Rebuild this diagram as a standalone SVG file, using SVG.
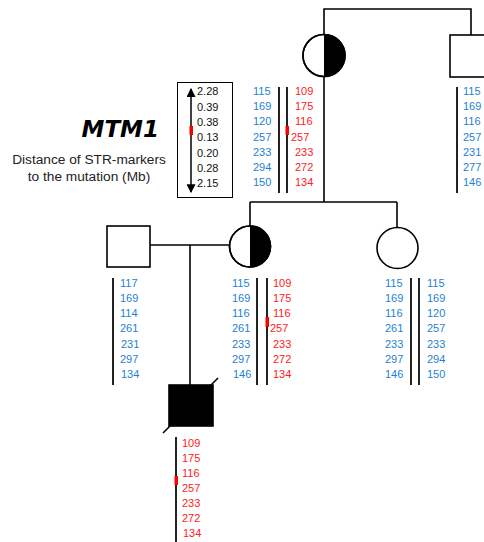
<svg xmlns="http://www.w3.org/2000/svg" width="484" height="542" viewBox="0 0 484 542">
  <style>
    .sym { fill: #fff; stroke: #000; stroke-width: 1.6; }
    .aff { fill: #000; stroke: #000; stroke-width: 1.6; }
    .ln { fill: none; stroke: #000; stroke-width: 1.6; }
    .bar { stroke: #222; stroke-width: 2; }
    .mk { fill: #ff0000; }
    .n { font-family: "Liberation Sans", Arial, sans-serif; font-size: 11px; }
    .b { fill: #1f7fd4; }
    .r { fill: #ff2020; }
    .k { fill: #111; }
  </style>
  <defs>
    <marker id="ah" viewBox="0 0 8 8" refX="7" refY="4" markerWidth="6" markerHeight="6" orient="auto-start-reverse">
      <path d="M0,0 L8,4 L0,8 z" fill="#000"/>
    </marker>
  </defs>

  <!-- pedigree lines -->
  <g id="connectors">
    <path class="ln" d="M324,34 V9 H471 V35"/>
    <path class="ln" d="M324,77 V202"/>
    <path class="ln" d="M250,202 H397"/>
    <path class="ln" d="M250,202 V226"/>
    <path class="ln" d="M397,202 V227"/>
    <path class="ln" d="M150,245 H229"/>
    <path class="ln" d="M190,245 V385"/>
  </g>

  <!-- legend -->
  <g id="legend">
    <text x="159" y="137" text-anchor="end" font-family="DejaVu Sans, sans-serif" font-size="23" font-weight="bold" font-style="italic">MTM1</text>
    <text x="89" y="164" text-anchor="middle" font-family="Liberation Sans, Arial, sans-serif" font-size="13.7" fill="#222">Distance of STR-markers</text>
    <text x="89" y="181" text-anchor="middle" font-family="Liberation Sans, Arial, sans-serif" font-size="13.7" fill="#222">to the mutation (Mb)</text>
    <rect x="177.5" y="82.5" width="55" height="115" fill="#fff" stroke="#000" stroke-width="1"/>
    <line x1="191" y1="89" x2="191" y2="192" stroke="#000" stroke-width="1.5" marker-start="url(#ah)" marker-end="url(#ah)"/>
    <rect class="mk" x="189.5" y="126" width="3.5" height="9"/>
    <g class="n k">
      <text x="197" y="95">2.28</text>
      <text x="197" y="111">0.39</text>
      <text x="197" y="126">0.38</text>
      <text x="197" y="141">0.13</text>
      <text x="197" y="157">0.20</text>
      <text x="197" y="172">0.28</text>
      <text x="197" y="187">2.15</text>
    </g>
  </g>

  <!-- grandmother: carrier -->
  <g id="grandmother">
    <circle class="sym" cx="324" cy="55.5" r="21"/>
    <path d="M324,34.5 A21,21 0 0 1 324,76.5 Z" fill="#000"/>
    <circle cx="324" cy="55.5" r="21" fill="none" stroke="#000" stroke-width="1.6"/>
    <line class="bar" x1="279" y1="87" x2="279" y2="193"/>
    <line class="bar" x1="287" y1="87" x2="287" y2="193"/>
    <rect class="mk" x="285.5" y="126" width="3.5" height="9"/>
    <g class="n b">
      <text x="253" y="95">115</text>
      <text x="253" y="110">169</text>
      <text x="253" y="125">120</text>
      <text x="253" y="141">257</text>
      <text x="253" y="156">233</text>
      <text x="253" y="171">294</text>
      <text x="253" y="186">150</text>
    </g>
    <g class="n r">
      <text x="295" y="95">109</text>
      <text x="295" y="110">175</text>
      <text x="295" y="125">116</text>
      <text x="291" y="141">257</text>
      <text x="295" y="156">233</text>
      <text x="295" y="171">272</text>
      <text x="295" y="186">134</text>
    </g>
  </g>

  <!-- grandfather -->
  <g id="grandfather">
    <rect class="sym" x="450" y="35" width="42" height="42"/>
    <line class="bar" x1="457" y1="87" x2="457" y2="193"/>
    <g class="n b">
      <text x="463" y="95">115</text>
      <text x="463" y="110">169</text>
      <text x="463" y="125">116</text>
      <text x="463" y="141">257</text>
      <text x="463" y="156">231</text>
      <text x="463" y="171">277</text>
      <text x="463" y="186">146</text>
    </g>
  </g>

  <!-- father -->
  <g id="father">
    <rect class="sym" x="107" y="226" width="43" height="41"/>
    <line class="bar" x1="113" y1="278" x2="113" y2="385"/>
    <g class="n b">
      <text x="120" y="287">117</text>
      <text x="120" y="302">169</text>
      <text x="120" y="317">114</text>
      <text x="120" y="332">261</text>
      <text x="121" y="348">231</text>
      <text x="120" y="363">297</text>
      <text x="121" y="378">134</text>
    </g>
  </g>

  <!-- mother: carrier -->
  <g id="mother">
    <circle class="sym" cx="250" cy="246.5" r="20.5"/>
    <path d="M250,226 A20.5,20.5 0 0 1 250,267 Z" fill="#000"/>
    <circle cx="250" cy="246.5" r="20.5" fill="none" stroke="#000" stroke-width="1.6"/>
    <line class="bar" x1="257" y1="278" x2="257" y2="385"/>
    <line class="bar" x1="267" y1="278" x2="267" y2="385"/>
    <rect class="mk" x="265.5" y="317" width="3.5" height="10"/>
    <g class="n b">
      <text x="232" y="287">115</text>
      <text x="232" y="302">169</text>
      <text x="232" y="317">116</text>
      <text x="232" y="332">261</text>
      <text x="232" y="348">233</text>
      <text x="232" y="363">297</text>
      <text x="233" y="378">146</text>
    </g>
    <g class="n r">
      <text x="273" y="287">109</text>
      <text x="273" y="302">175</text>
      <text x="273" y="317">116</text>
      <text x="270" y="332">257</text>
      <text x="273" y="348">233</text>
      <text x="273" y="363">272</text>
      <text x="273" y="378">134</text>
    </g>
  </g>

  <!-- sister -->
  <g id="sister">
    <circle class="sym" cx="397.5" cy="248" r="20.5"/>
    <line class="bar" x1="411" y1="278" x2="411" y2="385"/>
    <line class="bar" x1="419" y1="278" x2="419" y2="385"/>
    <g class="n b">
      <text x="385" y="287">115</text>
      <text x="385" y="302">169</text>
      <text x="385" y="317">116</text>
      <text x="385" y="332">261</text>
      <text x="385" y="348">233</text>
      <text x="385" y="363">297</text>
      <text x="385" y="378">146</text>
    </g>
    <g class="n b">
      <text x="427" y="287">115</text>
      <text x="427" y="302">169</text>
      <text x="427" y="317">120</text>
      <text x="427" y="332">257</text>
      <text x="427" y="348">233</text>
      <text x="427" y="363">294</text>
      <text x="427" y="378">150</text>
    </g>
  </g>

  <!-- affected son, deceased -->
  <g id="son">
    <rect class="aff" x="169" y="385" width="44" height="41"/>
    <line class="ln" x1="163" y1="433" x2="218" y2="378"/>
    <line class="bar" x1="176" y1="437" x2="176" y2="542"/>
    <rect class="mk" x="174.5" y="476" width="3.5" height="9"/>
    <g class="n r">
      <text x="182" y="447">109</text>
      <text x="182" y="462">175</text>
      <text x="182" y="477">116</text>
      <text x="182" y="492">257</text>
      <text x="182" y="507">233</text>
      <text x="182" y="522">272</text>
      <text x="183" y="537">134</text>
    </g>
  </g>
</svg>
